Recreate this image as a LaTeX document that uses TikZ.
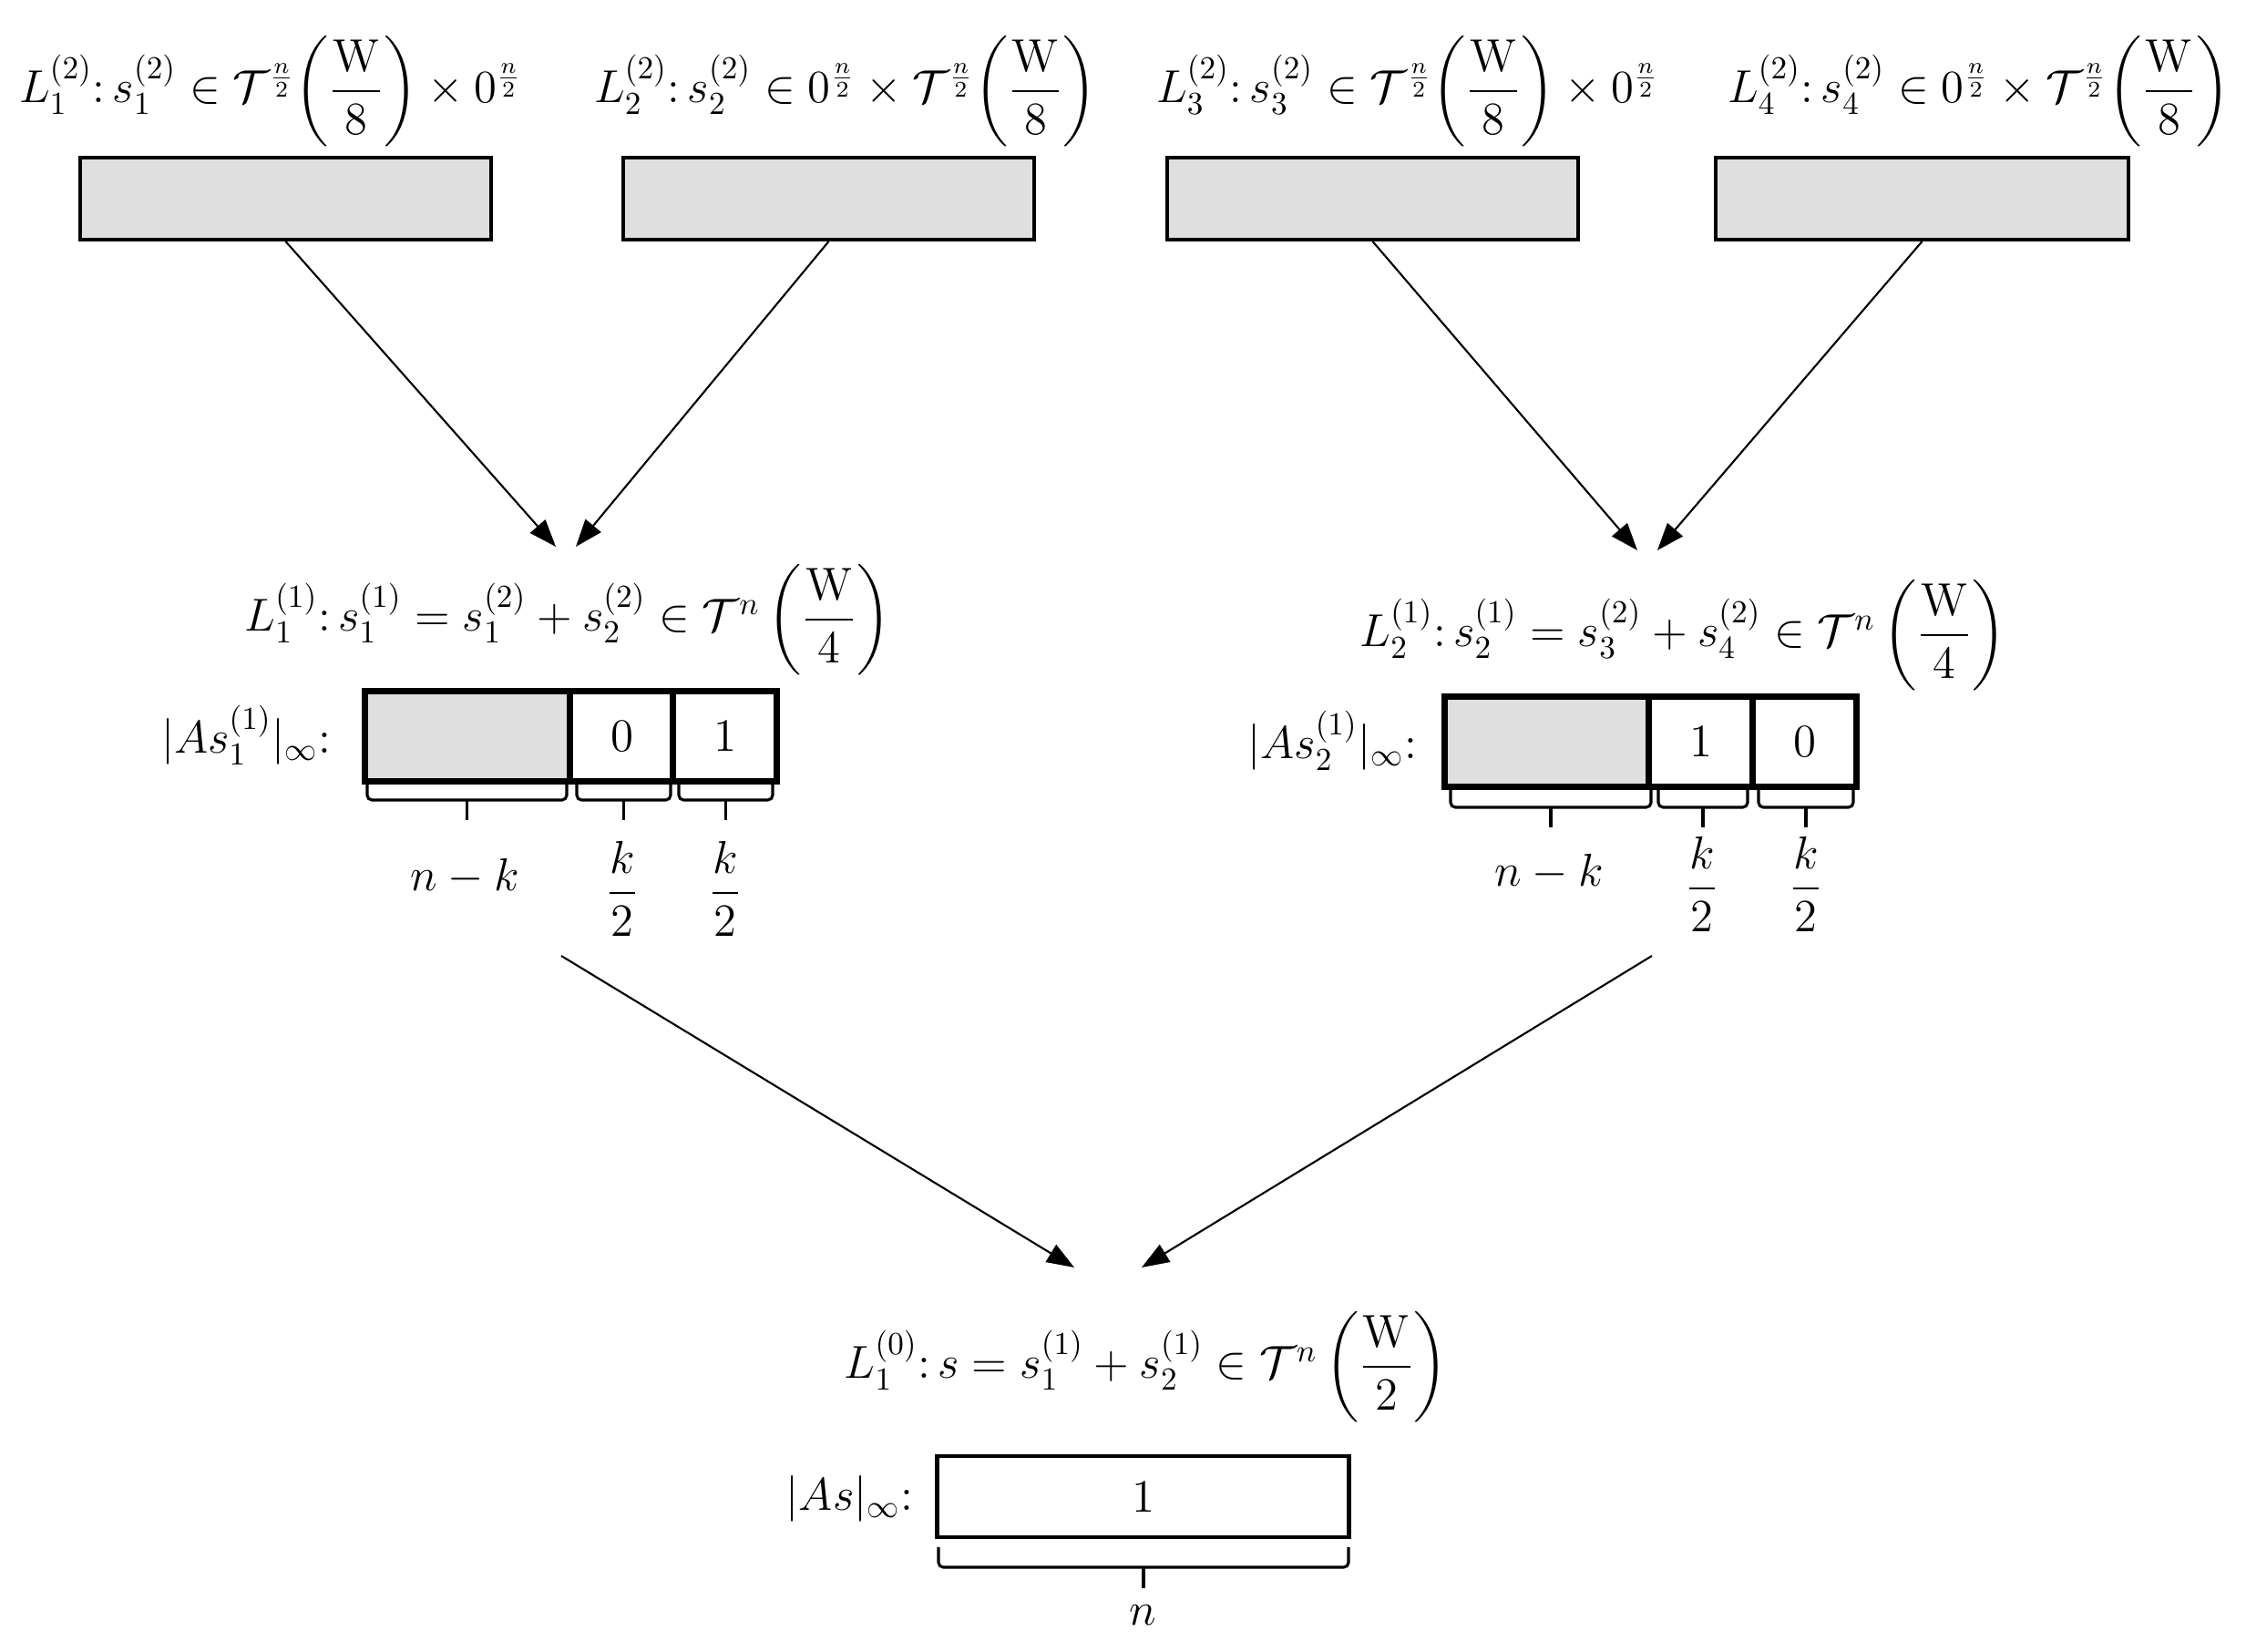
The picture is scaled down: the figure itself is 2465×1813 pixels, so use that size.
\documentclass[tikz,border=0pt]{standalone}
\usepackage{amsmath}
\usetikzlibrary{arrows.meta}
\definecolor{boxgray}{RGB}{223,223,223}
\newcommand\mybrace[5]{%
  \draw[brc] (#1,#3) -- (#1,#4) -- (#2,#4) -- (#2,#3);
  \draw[brc] ({(#1+#2)/2},#4) -- ({(#1+#2)/2},#5);}
\begin{document}
\begin{tikzpicture}[x=0.01cm,y=-0.01cm,
  lab/.style={inner sep=0pt, font=\fontsize{14.5}{17}\selectfont},
  toplab/.style={inner sep=0pt, font=\fontsize{13.8}{17}\selectfont},
  topbox/.style={draw, line width=1.1pt, fill=boxgray, minimum width=4.51cm, minimum height=0.9cm, inner sep=0pt},
  graycell/.style={draw, line width=2pt, fill=boxgray, minimum height=0.98cm, inner sep=0pt},
  numcell/.style={draw, line width=2pt, fill=white, minimum height=0.98cm, minimum width=1.13cm, inner sep=0pt, font=\fontsize{14.5}{17}\selectfont},
  finalbox/.style={draw, line width=1.4pt, minimum width=4.51cm, minimum height=0.89cm, inner sep=0pt, font=\fontsize{14.5}{17}\selectfont},
  conn/.style={line width=0.6pt, -{Triangle[length=0.3cm,width=0.22cm]}},
  brc/.style={line width=0.9pt, rounded corners=1.5pt}]
\useasboundingbox (0,0) rectangle (2465,1813);

% top level labels
\node[toplab] (t1) at (297,100) {$L_1^{(2)}{:}\,s_1^{(2)}\in\mathcal{T}^{\frac{n}{2}}\!\left(\dfrac{\mathrm{W}}{8}\right)\times 0^{\frac{n}{2}}$};
\node[toplab] (t2) at (928,100) {$L_2^{(2)}{:}\,s_2^{(2)}\in 0^{\frac{n}{2}}\times\mathcal{T}^{\frac{n}{2}}\!\left(\dfrac{\mathrm{W}}{8}\right)$};
\node[toplab] (t3) at (1545,100) {$L_3^{(2)}{:}\,s_3^{(2)}\in\mathcal{T}^{\frac{n}{2}}\!\left(\dfrac{\mathrm{W}}{8}\right)\times 0^{\frac{n}{2}}$};
\node[toplab] (t4) at (2172,100) {$L_4^{(2)}{:}\,s_4^{(2)}\in 0^{\frac{n}{2}}\times\mathcal{T}^{\frac{n}{2}}\!\left(\dfrac{\mathrm{W}}{8}\right)$};

% top boxes
\node[topbox] (b1) at (313.5,218) {};
\node[topbox] (b2) at (909.5,218) {};
\node[topbox] (b3) at (1506.5,218) {};
\node[topbox, minimum width=4.53cm] (b4) at (2109.5,218) {};

% middle labels
\node[lab] (m1) at (623,680) {$L_1^{(1)}{:}\,s_1^{(1)}=s_1^{(2)}+s_2^{(2)}\in\mathcal{T}^{n}\left(\dfrac{\mathrm{W}}{4}\right)$};
\node[lab] (m2) at (1847,697) {$L_2^{(1)}{:}\,s_2^{(1)}=s_3^{(2)}+s_4^{(2)}\in\mathcal{T}^{n}\left(\dfrac{\mathrm{W}}{4}\right)$};

% arrows top -> middle
\coordinate (tip1) at (610,600);
\coordinate (tip2) at (632,600);
\coordinate (tip3) at (1797,604);
\coordinate (tip4) at (1819,604);
\draw[conn] (b1.south) -- (tip1);
\draw[conn] (b2.south) -- (tip2);
\draw[conn] (b3.south) -- (tip3);
\draw[conn] (b4.south) -- (tip4);

% middle bar 1
\node[lab, anchor=east] (a1) at (364,807) {$|As_1^{(1)}|_\infty$:};
\node[graycell, minimum width=2.25cm] (g1) at (513.5,808) {};
\node[numcell] (c1a) at (682.5,808) {0};
\node[numcell] (c1b) at (795.5,808) {1};
\mybrace{403}{622}{860}{878}{900}
\mybrace{633}{736}{860}{878}{900}
\mybrace{745}{848}{860}{878}{900}
\node[lab] (n1) at (510,962) {$n-k$};
\node[lab] (k1a) at (683,975) {$\dfrac{k}{2}$};
\node[lab] (k1b) at (796,975) {$\dfrac{k}{2}$};

% middle bar 2
\node[lab, anchor=east] (a2) at (1556,813) {$|As_2^{(1)}|_\infty$:};
\node[graycell, minimum width=2.24cm] (g2) at (1698,814) {};
\node[numcell] (c2a) at (1866.5,814) {1};
\node[numcell] (c2b) at (1980.5,814) {0};
\mybrace{1592}{1812}{867}{886}{908}
\mybrace{1820}{1918}{867}{886}{908}
\mybrace{1930}{2034}{867}{886}{908}
\node[lab] (n2) at (1700,957) {$n-k$};
\node[lab] (k2a) at (1868,970) {$\dfrac{k}{2}$};
\node[lab] (k2b) at (1982,970) {$\dfrac{k}{2}$};

% arrows middle -> bottom
\coordinate (s5) at (616,1049);
\coordinate (s6) at (1813,1049);
\coordinate (tip5) at (1179,1391);
\coordinate (tip6) at (1253,1391);
\draw[conn] (s5) -- (tip5);
\draw[conn] (s6) -- (tip6);

% bottom
\node[lab] (c0) at (1258,1500) {$L_1^{(0)}{:}\,s=s_1^{(1)}+s_2^{(1)}\in\mathcal{T}^{n}\left(\dfrac{\mathrm{W}}{2}\right)$};
\node[lab, anchor=east] (a0) at (1003,1645) {$|As|_\infty$:};
\node[finalbox] (bb) at (1254.5,1642.5) {1};
\mybrace{1030}{1480}{1698}{1720}{1743}
\node[lab] (n0) at (1254,1773) {$n$};
\end{tikzpicture}
\end{document}
